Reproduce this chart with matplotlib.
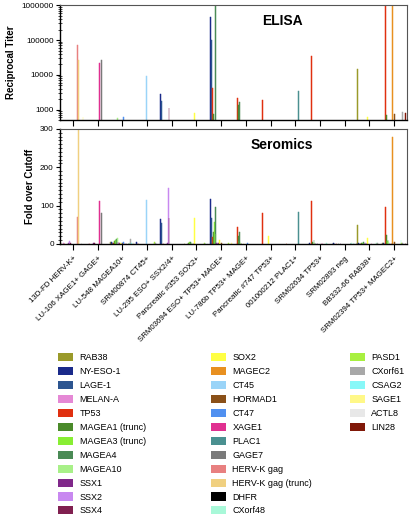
import numpy as np
import matplotlib
matplotlib.use('Agg')
import matplotlib.pyplot as plt
from matplotlib.patches import Patch
from matplotlib.ticker import MultipleLocator, LogLocator, NullFormatter

plt.rcParams['font.family'] = ['Liberation Sans', 'DejaVu Sans']

samples = ['13D-FD HERV-K+', 'LU-106 XAGE1+ GAGE+', 'LU-548 MAGEA10+', 'SRM00874 CT45+',
           'LU-295 ESO+ SSX2/4+', 'Pancreatic #353 SOX2+', 'SRM03694 ESO+ TP53+ MAGE+',
           'LU-786b TP53+ MAGE+', 'Pancreatic #747 TP53+', '001000212 PLAC1+',
           'SRM02634 TP53+', 'SRM02893 neg', 'BB332-66 RAB38+', 'SRM02394 TP53+ MAGEC2+']

antigens = ['RAB38', 'NY-ESO-1', 'LAGE-1', 'MELAN-A', 'TP53', 'MAGEA1 (trunc)',
            'MAGEA3 (trunc)', 'MAGEA4', 'MAGEA10', 'SSX1', 'SSX2', 'SSX4',
            'SOX2', 'MAGEC2', 'CT45', 'HORMAD1', 'CT47', 'XAGE1', 'PLAC1', 'GAGE7',
            'HERV-K gag', 'HERV-K gag (trunc)', 'DHFR', 'CXorf48',
            'PASD1', 'CXorf61', 'CSAG2', 'SAGE1', 'ACTL8', 'LIN28']

colors = ['#9a9a2a', '#1a2a8a', '#2c5590', '#e588d5', '#e03010', '#4a8a2a',
          '#88ee33', '#4a8a55', '#a8f088', '#80288a', '#c888f0', '#802050',
          '#ffff44', '#e89020', '#9ad4f8', '#8a5018', '#5090f0', '#e03090',
          '#4a9090', '#7a7a7a', '#e88080', '#f0d080', '#000000', '#a8f8d8',
          '#a8f040', '#a8a8a8', '#88f8f8', '#fff888', '#e8e8e8', '#801808']

# reciprocal titer per antigen (rows) x sample (cols); 0 = not detected
elisa = [
    [0, 0, 0, 0, 0, 0, 0, 0, 0, 0, 0, 0, 14500, 0],           # RAB38
    [0, 0, 0, 0, 2900, 0, 460000, 0, 0, 0, 0, 0, 0, 0],       # NY-ESO-1
    [0, 0, 0, 0, 1800, 0, 100000, 0, 0, 0, 0, 0, 0, 0],       # LAGE-1
    [0, 0, 0, 0, 0, 0, 0, 0, 0, 0, 0, 0, 0, 0],               # MELAN-A
    [0, 0, 0, 0, 0, 0, 4300, 2200, 1950, 0, 35000, 0, 0, 2000000],  # TP53
    [0, 0, 0, 0, 0, 0, 750, 1400, 0, 0, 0, 0, 0, 720],        # MAGEA1
    [0, 0, 0, 0, 0, 0, 0, 0, 0, 0, 0, 0, 0, 0],               # MAGEA3
    [0, 0, 0, 0, 0, 0, 2000000, 1700, 0, 0, 0, 0, 0, 0],      # MAGEA4
    [0, 0, 590, 0, 0, 0, 0, 0, 0, 0, 0, 0, 0, 0],             # MAGEA10
    [0, 0, 0, 0, 0, 0, 0, 0, 0, 0, 0, 0, 0, 0],               # SSX1
    [0, 0, 0, 0, 0, 0, 0, 0, 0, 0, 0, 0, 0, 0],               # SSX2
    [0, 0, 0, 0, 1150, 0, 0, 0, 0, 0, 0, 0, 0, 0],            # SSX4
    [0, 0, 0, 0, 0, 780, 0, 0, 0, 0, 0, 0, 620, 0],           # SOX2
    [0, 0, 0, 0, 0, 0, 0, 0, 0, 0, 0, 0, 0, 2000000],         # MAGEC2
    [0, 0, 0, 9400, 0, 0, 0, 0, 0, 0, 0, 0, 0, 0],            # CT45
    [0, 0, 0, 0, 0, 0, 0, 0, 0, 0, 0, 0, 0, 760],             # HORMAD1
    [0, 0, 600, 0, 0, 0, 0, 0, 0, 0, 0, 0, 0, 0],             # CT47
    [0, 22000, 0, 0, 0, 0, 0, 0, 0, 0, 0, 0, 0, 0],           # XAGE1
    [0, 0, 0, 0, 0, 0, 0, 0, 0, 3350, 0, 0, 0, 0],            # PLAC1
    [0, 27000, 0, 0, 0, 0, 0, 0, 0, 0, 0, 0, 0, 0],           # GAGE7
    [72000, 0, 0, 0, 0, 0, 0, 0, 0, 0, 0, 0, 0, 0],           # HERV-K gag
    [27000, 0, 0, 0, 0, 0, 0, 0, 0, 0, 0, 0, 0, 0],           # HERV-K gag (trunc)
    [0, 0, 0, 0, 0, 0, 0, 0, 0, 0, 0, 0, 0, 0],               # DHFR
    [0, 0, 0, 0, 0, 0, 0, 0, 0, 0, 0, 0, 0, 0],               # CXorf48
    [0, 0, 0, 0, 0, 0, 0, 0, 0, 0, 0, 0, 0, 0],               # PASD1
    [0, 0, 0, 0, 0, 0, 0, 0, 0, 0, 0, 0, 0, 850],             # CXorf61
    [0, 0, 0, 0, 0, 0, 0, 0, 0, 0, 0, 0, 0, 0],               # CSAG2
    [620, 0, 0, 0, 0, 0, 0, 0, 0, 0, 0, 0, 0, 0],             # SAGE1
    [0, 0, 0, 0, 0, 0, 0, 0, 0, 0, 0, 0, 0, 0],               # ACTL8
    [0, 0, 0, 0, 0, 0, 0, 0, 0, 0, 0, 0, 0, 800],             # LIN28
]

# fold over cutoff, same layout
seromics = [
    [1, 0, 6, 0, 0, 1, 0, 0, 0, 0, 0, 2, 50, 2],        # RAB38
    [0, 0, 4, 4, 64, 0, 117, 0, 0, 0, 3, 2, 2, 3],      # NY-ESO-1
    [0, 0, 3, 2, 54, 0, 69, 0, 0, 0, 0, 1, 1, 2],       # LAGE-1
    [2, 1, 2, 1, 1, 1, 1, 1, 0, 0, 1, 1, 1, 1],         # MELAN-A
    [1, 1, 2, 1, 1, 1, 18, 43, 81, 1, 112, 1, 2, 97],   # TP53
    [0, 0, 7, 0, 0, 2, 30, 20, 0, 0, 4, 1, 2, 23],      # MAGEA1
    [0, 0, 10, 0, 0, 5, 58, 8, 0, 0, 0, 0, 3, 8],       # MAGEA3
    [0, 0, 12, 1, 0, 4, 96, 32, 0, 0, 10, 1, 4, 10],    # MAGEA4
    [0, 0, 16, 0, 0, 2, 25, 2, 0, 0, 2, 0, 2, 5],       # MAGEA10
    [3, 2, 4, 0, 2, 1, 2, 1, 0, 0, 1, 1, 2, 1],         # SSX1
    [8, 1, 3, 0, 146, 1, 2, 0, 0, 0, 1, 0, 2, 1],       # SSX2
    [2, 3, 2, 0, 69, 1, 2, 0, 0, 0, 1, 0, 1, 1],        # SSX4
    [0, 0, 2, 0, 0, 69, 10, 1, 22, 0, 0, 0, 15, 0],     # SOX2
    [0, 0, 0, 0, 0, 0, 0, 0, 0, 0, 0, 0, 0, 280],       # MAGEC2
    [0, 0, 6, 115, 0, 0, 0, 0, 0, 0, 0, 0, 0, 0],       # CT45
    [0, 0, 3, 0, 0, 0, 3, 0, 0, 0, 0, 0, 0, 4],         # HORMAD1
    [0, 0, 4, 0, 0, 0, 0, 3, 0, 0, 0, 0, 0, 0],         # CT47
    [0, 112, 1, 0, 0, 0, 0, 0, 0, 0, 2, 0, 1, 0],       # XAGE1
    [0, 0, 0, 0, 0, 0, 0, 0, 0, 83, 0, 0, 0, 0],        # PLAC1
    [0, 80, 3, 0, 0, 0, 0, 0, 0, 0, 0, 0, 0, 0],        # GAGE7
    [70, 0, 0, 0, 0, 0, 0, 0, 0, 0, 0, 0, 0, 0],        # HERV-K gag
    [300, 0, 0, 0, 0, 0, 0, 0, 0, 0, 0, 0, 0, 0],       # HERV-K gag (trunc)
    [0, 0, 1, 0, 0, 0, 0, 0, 0, 0, 0, 1, 0, 0],         # DHFR
    [0, 0, 2, 2, 0, 0, 0, 0, 0, 0, 3, 2, 3, 10],        # CXorf48
    [0, 0, 3, 4, 0, 3, 3, 0, 0, 0, 0, 0, 2, 3],         # PASD1
    [1, 0, 12, 2, 0, 2, 0, 0, 0, 0, 0, 1, 2, 3],        # CXorf61
    [0, 0, 2, 0, 0, 1, 0, 0, 0, 0, 0, 2, 0, 0],         # CSAG2
    [0, 0, 1, 0, 0, 0, 3, 0, 0, 0, 0, 0, 0, 0],         # SAGE1
    [0, 0, 2, 1, 0, 1, 0, 0, 0, 0, 0, 1, 0, 2],         # ACTL8
    [0, 0, 1, 0, 0, 0, 0, 0, 0, 0, 0, 1, 0, 1],         # LIN28
]

n_ag = len(antigens)
x = np.arange(len(samples))
group_w = 0.98
bw = group_w / n_ag

fig = plt.figure(figsize=(4.09, 5.18), dpi=100)
ax1 = fig.add_axes([0.147, 0.768, 0.848, 0.222])
ax2 = fig.add_axes([0.147, 0.529, 0.848, 0.222])

for i in range(n_ag):
    off = (i - (n_ag - 1) / 2) * bw
    e = np.array(elisa[i], dtype=float)
    m = e > 0
    if m.any():
        ax1.bar(x[m] + off, e[m], width=bw, bottom=1, color=colors[i],
                edgecolor=colors[i], linewidth=0.35)
    s = np.array(seromics[i], dtype=float)
    m = s > 0
    if m.any():
        ax2.bar(x[m] + off, s[m], width=bw, color=colors[i],
                edgecolor=colors[i], linewidth=0.35)

ax1.set_yscale('log')
ax1.set_ylim(500, 1000000)
ax1.set_yticks([1000, 10000, 100000, 1000000])
ax1.set_yticklabels(['1000', '10000', '100000', '1000000'])
ax1.yaxis.set_minor_locator(LogLocator(base=10, subs=np.arange(2, 10)))
ax1.yaxis.set_minor_formatter(NullFormatter())
ax1.set_ylabel('Reciprocal Titer', fontsize=7, fontweight='bold', labelpad=4)
ax1.text(0.64, 0.86, 'ELISA', transform=ax1.transAxes, ha='center', va='center',
         fontsize=10, fontweight='bold')

ax2.set_ylim(0, 300)
ax2.set_yticks([0, 100, 200, 300])
ax2.yaxis.set_minor_locator(MultipleLocator(10))
ax2.set_ylabel('Fold over Cutoff', fontsize=7, fontweight='bold', labelpad=4)
ax2.text(0.64, 0.86, 'Seromics', transform=ax2.transAxes, ha='center', va='center',
         fontsize=10, fontweight='bold')

for ax in (ax1, ax2):
    ax.set_xlim(-0.52, 13.52)
    ax.set_xticks(x)
    ax.tick_params(axis='x', direction='out', width=0.8, length=4.5)
    ax.tick_params(axis='y', which='major', direction='out', labelsize=5.9,
                   width=0.8, length=3, pad=1.5)
    ax.tick_params(axis='y', which='minor', direction='inout', length=2.5, width=0.5)
    ax.spines['left'].set_linewidth(1.0)
    ax.spines['bottom'].set_linewidth(1.0)
    ax.spines['top'].set_color('#555555')
    ax.spines['right'].set_color('#555555')
    ax.spines['top'].set_linewidth(0.8)
    ax.spines['right'].set_linewidth(0.8)

ax1.set_xticklabels([])
ax2.set_xticklabels(samples, rotation=45, ha='right', rotation_mode='anchor', fontsize=5.7)

# legend in three columns
cols = [(0, 12, 0.142), (12, 24, 0.515), (24, 30, 0.855)]
for a, b, xl in cols:
    handles = [Patch(facecolor=colors[i], edgecolor='none') for i in range(a, b)]
    fig.legend(handles, antigens[a:b], loc='upper left', bbox_to_anchor=(xl, 0.318),
               frameon=False, fontsize=6.5, handlelength=1.7, handleheight=1.0,
               labelspacing=0.53, handletextpad=0.7, borderaxespad=0, borderpad=0)

fig.savefig('out.png', dpi=100)
